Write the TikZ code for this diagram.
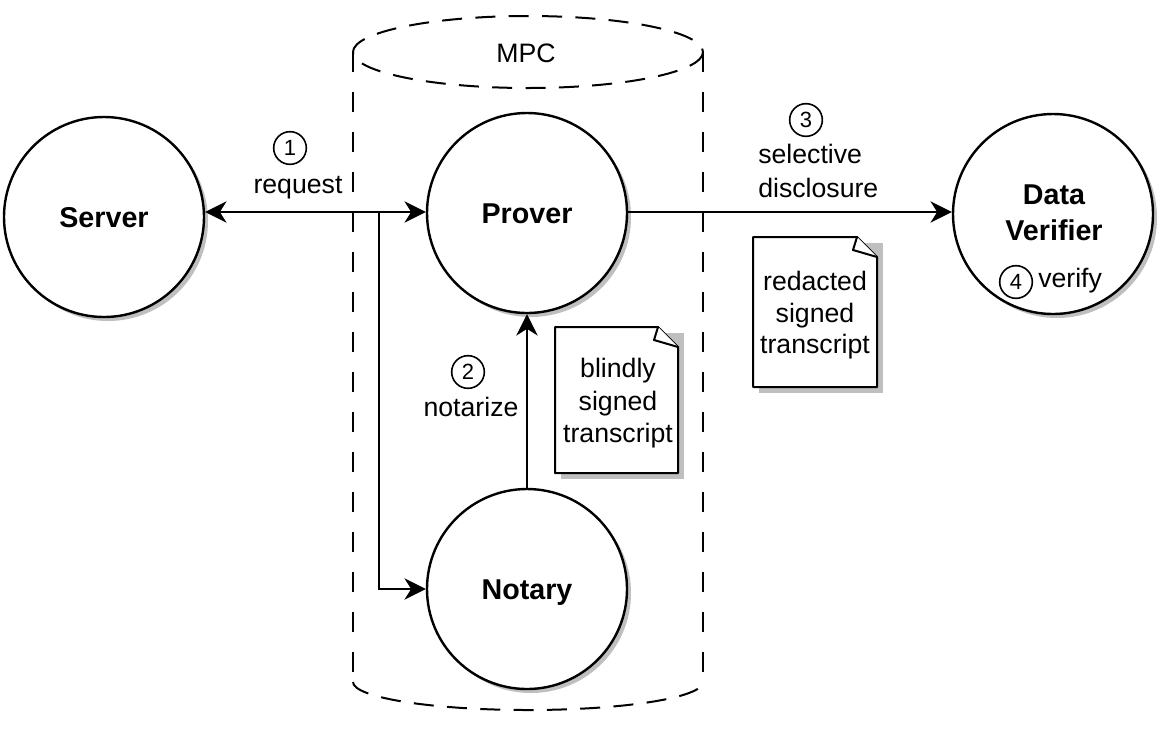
\documentclass[tikz,border=0pt]{standalone}
\usepackage{fontspec}
\setmainfont{Liberation Sans}
\usetikzlibrary{arrows.meta,shadows,calc}
\newcommand\transdoc[4]{%
  \fill[black!25] (#1+6,#2+6) rectangle (#3+6,#4+6);
  \draw[line width=1.5pt,fill=white,line join=round] (#1,#2) -- (#3-20,#2) -- (#3,#2+20) -- (#3,#4) -- (#1,#4) -- cycle;
  \draw[line width=1.5pt,fill=white,line join=round] (#3-20,#2) -- (#3-24,#2+13) -- (#3,#2+20);
}
\begin{document}
\begin{tikzpicture}[x=0.75pt,y=-0.75pt,
  ent/.style={circle,draw,line width=1.8pt,fill=white,inner sep=0pt,minimum size=150pt,
    font=\fontsize{21.5}{26}\selectfont\bfseries,text height=15.4pt,text depth=0pt,
    drop shadow={shadow xshift=3pt,shadow yshift=-3pt,fill=black!25,opacity=1}},
  num/.style={circle,draw,line width=1.2pt,minimum size=24.5pt,inner sep=0pt,font=\fontsize{16.5}{18}\selectfont},
  lbl/.style={font=\fontsize{20}{24}\selectfont,inner sep=0pt,anchor=base},
  blbl/.style={font=\fontsize{21.5}{26}\selectfont\bfseries,inner sep=0pt,anchor=base},
  conn/.style={line width=1.5pt,-{Stealth[length=16pt,width=16pt,inset=5pt]}},
  both/.style={line width=1.5pt,{Stealth[length=16pt,width=16pt,inset=5pt]}-{Stealth[length=16pt,width=16pt,inset=5pt]}},
  mpcline/.style={line width=1.5pt,dash pattern=on 15pt off 10pt},
  mpcside/.style={line width=1.5pt,dash pattern=on 15pt off 15pt}]
\fill[white] (0,0) rectangle (1162,729);
\useasboundingbox (0,0) rectangle (1162,729);
% MPC cylinder
\draw[mpcline] (528,52) ellipse [x radius=175,y radius=36];
\draw[mpcside] (353,52) -- (353,682);
\draw[mpcside] (703,52) -- (703,682);
\draw[mpcline] (353,682) arc[start angle=180,end angle=0,x radius=175,y radius=28];
\node[lbl] (mpc) at (526,62) {MPC};
% entities
\node[ent] (server) at (104,217) {Server};
\node[ent] (prover) at (527,213) {Prover};
\node[ent] (notary) at (527,589) {Notary};
\node[ent] (dv) at (1053,214) {};
\node[blbl] (dvt1) at (1054,204) {Data};
\node[blbl] (dvt2) at (1054,240) {Verifier};
\node[num] (n4) at (1016,282) {4};
\node[lbl,anchor=base west] (t4) at (1038,287) {verify};
% connectors
\coordinate (j) at (379,212);
\draw[both] (server.east |- j) -- (prover.west |- j);
\draw[conn] (j) -- (j |- notary) -- (notary.west);
\draw[conn] (notary.north) -- (prover.south);
\draw[conn] (prover.east |- j) -- (dv.west |- j);
% labels
\node[num] (n1) at (290,148) {1};
\node[lbl] (t1) at (298,193) {request};
\node[num] (n2) at (468,372) {2};
\node[lbl] (t2) at (471,416) {notarize};
\node[num] (n3) at (806,120) {3};
\node[lbl,anchor=base west] (t3a) at (758,163) {selective};
\node[lbl,anchor=base west] (t3b) at (758,197) {disclosure};
% documents
\transdoc{555}{327}{678}{473}
\node[lbl] (d1a) at (618,377) {blindly};
\node[lbl] (d1b) at (618,410) {signed};
\node[lbl] (d1c) at (618,442) {transcript};
\transdoc{753}{237}{877}{387}
\node[lbl] (d2a) at (815,290) {redacted};
\node[lbl] (d2b) at (815,322) {signed};
\node[lbl] (d2c) at (815,353) {transcript};
\end{tikzpicture}
\end{document}
